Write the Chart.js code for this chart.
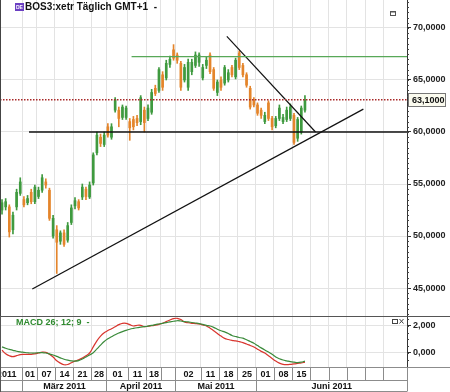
<!DOCTYPE html>
<html>
<head>
<meta charset="utf-8">
<script src="https://cdn.jsdelivr.net/npm/chart.js@4.4.0/dist/chart.umd.min.js"></script>
<style>
  html, body { margin: 0; padding: 0; background: #fff; }
  #wrap { position: relative; width: 450px; height: 392px; overflow: hidden; }
  .pane { position: absolute; left: 0; width: 450px; }
</style>
</head>
<body>
<div id="wrap">
  <div class="pane" style="top:0;height:316px"><canvas id="priceChart"></canvas></div>
  <div class="pane" style="top:316px;height:76px"><canvas id="macdChart"></canvas></div>
</div>
<script>
/* globals Chart:false */
// BOS3 daily candles, trading day index 0 = 21.02.2011
const opens = [52.5, 52.8, 52.8, 50.6, 52.8, 54.1, 53.5, 53.2, 54.2, 53.3,
  53.8, 54.4, 55.2, 54.4, 50.0, 50.6, 49.5, 50.3, 49.6, 51.3,
  52.9, 53.3, 53.75, 54.5, 53.75, 55.1, 58.0, 59.5, 58.8, 60.5,
  59.5, 62.1, 62.1, 61.4, 61.4, 61.0, 61.2, 61.3, 61.0, 62.1,
  61.3, 61.9, 64.2, 64.0, 65.5, 65.2, 66.5, 67.9, 67.4, 66.6,
  65.0, 64.3, 65.8, 66.4, 66.7, 65.2, 66.4, 67.4, 66.0, 63.8,
  65.0, 64.7, 65.0, 66.2, 65.3, 67.6, 66.4, 65.5, 64.2, 63.1,
  62.6, 62.1, 61.0, 62.8, 61.3, 60.6, 61.3, 61.0, 61.2, 61.3,
  61.6, 59.4, 60.0, 62.1];
const highs = [53.5, 53.6, 53.0, 52.3, 54.5, 55.6, 53.8, 53.9, 54.5, 54.9,
  54.7, 55.9, 55.5, 54.6, 52.0, 51.0, 50.5, 50.6, 51.3, 53.0,
  53.7, 53.5, 55.0, 54.7, 55.2, 58.0, 60.0, 59.8, 60.0, 60.8,
  60.8, 63.3, 62.4, 62.6, 62.5, 61.3, 61.5, 61.6, 63.5, 62.4,
  62.6, 64.1, 64.5, 66.2, 65.8, 66.9, 67.3, 68.4, 67.6, 66.8,
  66.5, 67.0, 67.0, 67.7, 67.6, 66.5, 67.2, 67.6, 66.2, 65.0,
  65.3, 66.4, 66.0, 66.4, 67.1, 67.8, 66.6, 65.7, 64.4, 63.3,
  62.8, 62.3, 61.9, 63.0, 61.5, 61.5, 62.6, 61.7, 62.4, 62.7,
  61.8, 61.4, 62.5, 63.5];
const lows = [52.1, 52.5, 49.9, 50.2, 52.5, 53.9, 52.8, 53.0, 53.1, 53.1,
  53.6, 54.2, 54.6, 51.5, 49.8, 46.4, 49.2, 49.0, 49.4, 51.1,
  52.6, 52.5, 53.5, 53.5, 53.6, 54.9, 57.8, 58.6, 58.6, 59.5,
  59.3, 61.9, 60.5, 61.2, 61.2, 59.2, 60.2, 60.6, 60.7, 60.0,
  61.1, 61.7, 63.5, 63.8, 64.0, 65.0, 66.2, 66.9, 66.6, 64.0,
  64.8, 64.0, 65.5, 66.2, 66.3, 65.0, 66.1, 65.6, 64.0, 63.5,
  64.0, 64.5, 64.8, 65.3, 65.1, 66.0, 65.3, 64.3, 62.2, 62.4,
  61.6, 61.3, 60.8, 61.1, 60.2, 60.4, 61.1, 60.8, 61.0, 61.1,
  58.8, 59.1, 59.8, 61.9];
const closes = [53.2, 53.3, 50.4, 52.0, 54.2, 55.2, 53.0, 53.6, 53.3, 54.7,
  54.4, 55.6, 54.9, 51.7, 51.7, 49.4, 50.3, 49.2, 51.0, 52.7,
  53.4, 52.7, 54.7, 53.8, 54.9, 57.8, 59.7, 58.9, 59.7, 59.7,
  60.5, 63.1, 61.3, 62.4, 62.3, 60.4, 60.5, 60.9, 63.3, 60.9,
  62.3, 63.8, 63.7, 66.0, 64.3, 66.6, 67.0, 67.1, 66.9, 64.3,
  66.2, 66.7, 66.7, 67.4, 67.4, 66.2, 66.9, 65.8, 64.2, 64.8,
  64.3, 66.2, 65.7, 65.5, 66.9, 66.2, 65.5, 64.5, 62.4, 62.6,
  61.8, 61.6, 61.6, 61.3, 60.5, 61.3, 62.3, 61.4, 62.1, 62.4,
  59.0, 61.2, 62.3, 63.1];

// MACD 26; 12; 9
const macdLine = [0.2, -0.05, -0.2, -0.27, -0.2, -0.12, -0.1, -0.1, -0.1, -0.06,
  0.0, 0.07, 0.05, -0.1, -0.3, -0.58, -0.75, -0.87, -0.85, -0.72,
  -0.6, -0.5, -0.37, -0.2, 0.0, 0.45, 0.9, 1.25, 1.5, 1.66,
  1.8, 1.95, 2.1, 2.2, 2.2, 2.1, 2.0, 2.05, 2.05, 1.95,
  1.98, 2.02, 2.06, 2.12, 2.2, 2.32, 2.44, 2.55, 2.57, 2.48,
  2.3, 2.24, 2.2, 2.18, 2.15, 2.08, 2.0, 1.84, 1.65, 1.45,
  1.25, 1.08, 1.0, 0.94, 0.9, 0.84, 0.77, 0.67, 0.56, 0.45,
  0.28, 0.12, 0.0, -0.2, -0.4, -0.6, -0.75, -0.84, -0.86, -0.84,
  -0.8, -0.77, -0.74, -0.68];
const signalLine = [0.45, 0.35, 0.27, 0.2, 0.13, 0.08, 0.05, 0.02, 0.0, 0.0,
  0.02, 0.03, 0.0, -0.07, -0.15, -0.25, -0.36, -0.46, -0.53, -0.58,
  -0.6, -0.56, -0.45, -0.3, -0.15, 0.02, 0.3, 0.58, 0.85, 1.05,
  1.2, 1.35, 1.48, 1.58, 1.68, 1.76, 1.82, 1.87, 1.91, 1.95,
  1.99, 2.04, 2.1, 2.15, 2.2, 2.25, 2.3, 2.35, 2.39, 2.37,
  2.33, 2.3, 2.26, 2.22, 2.18, 2.12, 2.05, 2.0, 1.9, 1.76,
  1.65, 1.56, 1.45, 1.3, 1.22, 1.15, 1.1, 0.98, 0.85, 0.72,
  0.55, 0.38, 0.22, 0.07, -0.1, -0.3, -0.43, -0.52, -0.58, -0.64,
  -0.68, -0.71, -0.68, -0.6];

// drawn lines, in [index, price]
const riseLine = [[8.3, 44.9], [99, 62.2]];
const fallLine = [[61.6, 69.2], [85.9, 60.0]];
const supportLevel = 60.0, supportFrom = 7.4;
const resistLevel = 67.25, resistFrom = 35.5;
const lastClose = closes[closes.length - 1];

// axis
const priceTicks = [45, 50, 55, 60, 65, 70];
const macdTicks = [0, 2];
const weekBreaks = [5.5, 9.5, 14.5, 19.5, 24.5, 28.5, 34.5, 39.5, 43.5, 47.5, 54.5,
  59.5, 64.5, 69.5, 74.5, 79.5, 84.5, 89.5, 94.5, 99.5, 104.5];
const weekLabels = ['2011', '01', '07', '14', '21', '28', '01', '11', '18', '', '02',
  '11', '18', '25', '01', '08', '15', '', '', '', '', ''];
const monthBreaks = [5.5, 28.5, 47.5, 69.5];
const monthLabels = ['', 'März 2011', 'April 2011', 'Mai 2011', 'Juni 2011'];
const titleText = 'BOS3:xetr Täglich GMT+1  -';
const macdText = 'MACD 26; 12; 9  -';

const X_MIN = -0.55, X_MAX = 110.96;
const UP = '#3f9a3f', DOWN = '#e4852b';
const GRID = '#e3e3e3';
const FONT = '"Liberation Sans", Arial, sans-serif';
const fmt = (v, d) => v.toFixed(d).replace('.', ',');

Chart.defaults.font.family = FONT;

const candleColor = c => closes[c.dataIndex] >= opens[c.dataIndex] ? UP : DOWN;
const seg = (pts) => pts.map(p => ({x: p[0], y: p[1]}));

function minorTicks(ctx, chart, step) {
  const y = chart.scales.y, r = chart.chartArea.right;
  ctx.strokeStyle = '#444';
  ctx.lineWidth = 1;
  ctx.beginPath();
  for (let v = Math.ceil(y.min / step) * step; v <= y.max; v += step) {
    const py = Math.round(y.getPixelForValue(v)) + 0.5;
    ctx.moveTo(r, py);
    ctx.lineTo(r + 2, py);
  }
  ctx.stroke();
}

const pricePlugin = {
  id: 'priceDecor',
  afterDraw(chart) {
    const ctx = chart.ctx, y = chart.scales.y;
    ctx.save();
    ctx.strokeStyle = '#444';
    ctx.beginPath(); ctx.moveTo(0.5, 0); ctx.lineTo(0.5, chart.height); ctx.stroke();
    minorTicks(ctx, chart, 0.5);

    // title with exchange badge
    ctx.fillStyle = '#6b3fc2';
    ctx.fillRect(15, 3, 9, 8);
    ctx.fillStyle = '#fff';
    ctx.font = 'bold 5px ' + FONT;
    ctx.textBaseline = 'middle';
    ctx.fillText('DE', 16, 7.5);
    ctx.fillStyle = '#111';
    ctx.font = 'bold 10px ' + FONT;
    ctx.fillText(titleText, 25, 7.5);

    // window icon
    ctx.strokeStyle = '#555';
    ctx.strokeRect(390.5, 11.5, 5, 4);
    ctx.fillStyle = '#555';
    ctx.fillRect(390, 11, 6, 1.5);

    // last price box
    const py = Math.round(y.getPixelForValue(lastClose));
    ctx.fillStyle = '#fbfbef';
    ctx.fillRect(409, py - 6, 36, 13);
    ctx.strokeStyle = '#777';
    ctx.strokeRect(408.5, py - 6.5, 37, 13);
    ctx.fillStyle = '#111';
    ctx.font = 'bold 9px ' + FONT;
    ctx.fillText(fmt(lastClose, 4), 412, py + 0.5);
    ctx.restore();
  }
};

const macdPlugin = {
  id: 'macdDecor',
  afterDraw(chart) {
    const ctx = chart.ctx, a = chart.chartArea, xs = chart.scales.x;
    const px = v => Math.round(xs.getPixelForValue(v)) + 0.5;
    ctx.save();
    ctx.strokeStyle = '#555';
    ctx.lineWidth = 1;
    ctx.beginPath();
    ctx.moveTo(0, 0.5); ctx.lineTo(chart.width, 0.5);
    ctx.moveTo(0.5, 0); ctx.lineTo(0.5, chart.height);
    ctx.stroke();
    minorTicks(ctx, chart, 0.5);

    ctx.fillStyle = '#2f8a2f';
    ctx.font = 'bold 9px ' + FONT;
    ctx.textBaseline = 'middle';
    ctx.fillText(macdText, 16, 7);

    // panel icons
    ctx.strokeStyle = '#444';
    ctx.strokeRect(392.5, 3.5, 5, 4);
    ctx.beginPath();
    ctx.moveTo(399.5, 3); ctx.lineTo(403.5, 7.5);
    ctx.moveTo(403.5, 3); ctx.lineTo(399.5, 7.5);
    ctx.stroke();

    // date rows
    const r1 = a.bottom + 0.5, r2 = a.bottom + 13.5, r3 = chart.height - 0.5;
    ctx.strokeStyle = '#8c8c8c';
    ctx.beginPath();
    ctx.moveTo(0, r1); ctx.lineTo(chart.width, r1);
    ctx.moveTo(0, r2); ctx.lineTo(a.right, r2);
    ctx.moveTo(0, r3); ctx.lineTo(a.right, r3);
    ctx.moveTo(a.right + 0.5, r1); ctx.lineTo(a.right + 0.5, r3);
    weekBreaks.forEach(b => { ctx.moveTo(px(b), r1); ctx.lineTo(px(b), r2); });
    monthBreaks.forEach(b => { ctx.moveTo(px(b), r2); ctx.lineTo(px(b), r3); });
    ctx.stroke();

    ctx.fillStyle = '#111';
    ctx.font = 'bold 9px ' + FONT;
    const wEdges = [a.left, ...weekBreaks.map(px), a.right];
    weekLabels.forEach((t, i) => {
      if (i === 0) {
        ctx.textAlign = 'right';
        ctx.fillText(t, wEdges[1] - 6, (r1 + r2) / 2 + 0.5);
      } else {
        ctx.textAlign = 'center';
        ctx.fillText(t, (wEdges[i] + wEdges[i + 1]) / 2, (r1 + r2) / 2 + 0.5);
      }
    });
    const mEdges = [a.left, ...monthBreaks.map(px), a.right];
    ctx.textAlign = 'center';
    monthLabels.forEach((t, i) => {
      ctx.fillText(t, (mEdges[i] + mEdges[i + 1]) / 2, (r2 + r3) / 2 + 0.5);
    });
    // left frame over the clipped first label
    ctx.fillStyle = '#fff';
    ctx.fillRect(0, r1 + 0.5, 1.5, r2 - r1 - 1);
    ctx.strokeStyle = '#555';
    ctx.beginPath(); ctx.moveTo(0.5, 0); ctx.lineTo(0.5, chart.height); ctx.stroke();
    ctx.restore();
  }
};

const xAxis = (h) => ({
  type: 'linear', min: X_MIN, max: X_MAX, offset: false,
  ticks: { display: false },
  grid: { color: GRID, drawTicks: false, offset: false },
  border: { display: false },
  afterBuildTicks: s => { s.ticks = weekBreaks.map(v => ({value: v})); },
  afterFit: s => { s.height = h; }
});

const yAxis = (min, max, ticks, dec) => ({
  position: 'right', min: min, max: max,
  afterBuildTicks: s => { s.ticks = ticks.map(v => ({value: v})); },
  afterFit: s => { s.width = 43; s.paddingTop = 0; s.paddingBottom = 0; },
  ticks: { callback: v => fmt(v, dec), color: '#222', padding: 2,
           font: { size: 9, weight: 'bold' } },
  grid: { color: GRID, tickColor: '#333', tickLength: 4 },
  border: { color: '#333' }
});

const flatLine = (color, width, dash) => ({
  type: 'line', borderColor: color, borderWidth: width, borderDash: dash || [],
  pointRadius: 0, fill: false, order: 0
});

new Chart(document.getElementById('priceChart'), {
  type: 'bar',
  data: {
    datasets: [
      {
        label: 'Docht',
        data: lows.map((l, i) => ({x: i, y: [l, highs[i]]})),
        backgroundColor: candleColor,
        barThickness: 1, grouped: false, order: 3
      },
      {
        label: 'Kerze',
        data: opens.map((o, i) => ({x: i, y: [o, closes[i]]})),
        backgroundColor: candleColor,
        barThickness: 2, minBarLength: 1, grouped: false, order: 2
      },
      Object.assign(flatLine('#a82828', 1.5, [1.5, 1.5]),
        { data: [{x: X_MIN, y: lastClose}, {x: X_MAX, y: lastClose}] }),
      Object.assign(flatLine('#58a858', 1.2),
        { data: [{x: resistFrom, y: resistLevel}, {x: X_MAX, y: resistLevel}] }),
      Object.assign(flatLine('#111', 1.3),
        { data: [{x: supportFrom, y: supportLevel}, {x: X_MAX, y: supportLevel}] }),
      Object.assign(flatLine('#111', 1.2), { data: seg(riseLine) }),
      Object.assign(flatLine('#111', 1.2), { data: seg(fallLine) })
    ]
  },
  options: {
    responsive: true, maintainAspectRatio: false, animation: false,
    layout: { padding: 0 },
    plugins: { legend: { display: false }, tooltip: { enabled: false } },
    scales: {
      x: xAxis(0),
      y: yAxis(42.31, 72.69, priceTicks, 4)
    }
  },
  plugins: [pricePlugin]
});

new Chart(document.getElementById('macdChart'), {
  type: 'line',
  data: {
    datasets: [
      {
        label: 'Signal',
        data: signalLine.map((v, i) => ({x: i, y: v})),
        borderColor: '#3a8a3a', borderWidth: 1.2, pointRadius: 0, tension: 0.4
      },
      {
        label: 'MACD',
        data: macdLine.map((v, i) => ({x: i, y: v})),
        borderColor: '#d8352e', borderWidth: 1.2, pointRadius: 0, tension: 0.4
      }
    ]
  },
  options: {
    responsive: true, maintainAspectRatio: false, animation: false,
    layout: { padding: 0 },
    plugins: { legend: { display: false }, tooltip: { enabled: false } },
    scales: {
      x: xAxis(25),
      y: yAxis(-1.037, 2.74, macdTicks, 3)
    }
  },
  plugins: [macdPlugin]
});
</script>
</body>
</html>
